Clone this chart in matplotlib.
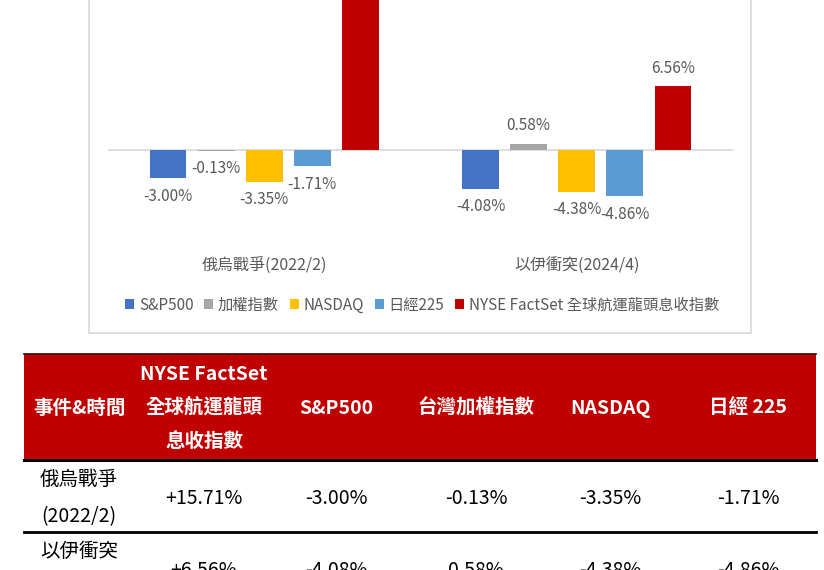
import matplotlib
matplotlib.use("Agg")
import matplotlib.pyplot as plt
from matplotlib.patches import Patch, Rectangle
from matplotlib.transforms import blended_transform_factory
import numpy as np

plt.rcParams['font.family'] = ['Noto Sans CJK TC', 'DejaVu Sans']

# ---------------- data ----------------
categories = ['俄烏戰爭(2022/2)', '以伊衝突(2024/4)']
series_names = ['S&P500', '加權指數', 'NASDAQ', '日經225', 'NYSE FactSet 全球航運龍頭息收指數']
sp500 = [-3.00, -4.08]
taiex = [-0.13, 0.58]
nasdaq = [-3.35, -4.38]
nikkei = [-1.71, -4.86]
nyse_shipping = [15.71, 6.56]
series_colors = ['#4472C4', '#A5A5A5', '#FFC000', '#5B9BD5', '#C00000']

table_header = ['事件&時間', 'NYSE FactSet\n全球航運龍頭\n息收指數', 'S&P500', '台灣加權指數', 'NASDAQ', '日經 225']
table_events = ['俄烏戰爭\n(2022/2)', '以伊衝突\n(2024/4)']

# ---------------- figure ----------------
W, H = 824, 570
fig = plt.figure(figsize=(W / 100, H / 100), dpi=100)

# overlay axes in pixel coordinates for frame and table
ov = fig.add_axes([0, 0, 1, 1], zorder=0)
ov.set_xlim(0, W)
ov.set_ylim(H, 0)
ov.axis('off')

# chart frame (top is cut off)
ov.add_patch(Rectangle((89, -20), 662, 353, fill=False, edgecolor='#D9D9D9', lw=1.2))

# ---------------- bar chart ----------------
px_per_pct = 9.65
zero_y = 149.5
ax_bottom_px = 240
ax = fig.add_axes([108 / W, 1 - ax_bottom_px / H, 625 / W, ax_bottom_px / H], zorder=1)
ax.patch.set_alpha(0)
ax.set_ylim(-(ax_bottom_px - zero_y) / px_per_pct, zero_y / px_per_pct)
ax.set_xlim(-0.5, len(categories) - 0.5)
for s in ax.spines.values():
    s.set_visible(False)
ax.set_xticks([])
ax.set_yticks([])
ax.axhline(0, color='#D9D9D9', lw=1.2, zorder=1)

all_series = [sp500, taiex, nasdaq, nikkei, nyse_shipping]
x = np.arange(len(categories))
step = 0.154
width = 0.118
label_color = '#595959'
for k, (vals, col) in enumerate(zip(all_series, series_colors)):
    pos = x + (k - 2) * step
    ax.bar(pos, vals, width=width, color=col, zorder=2)
    for p, v in zip(pos, vals):
        off = 13 if v >= 0 else -13
        ax.annotate(f'{v:.2f}%', (p, v), xytext=(0, off), textcoords='offset points',
                    ha='center', va='center', fontsize=11, color=label_color)

trans = blended_transform_factory(ax.transData, fig.transFigure)
for i, c in enumerate(categories):
    ax.text(i, 1 - 266 / H, c, transform=trans, ha='center', va='center',
            fontsize=11.5, color=label_color)

handles = [Patch(facecolor=c, edgecolor='none') for c in series_colors]
leg = fig.legend(handles, series_names, loc='center', bbox_to_anchor=(422 / W, 1 - 305 / H),
                 ncol=5, frameon=False, fontsize=11, handlelength=0.6, handleheight=0.6,
                 handletextpad=0.3, columnspacing=0.7, borderaxespad=0)
for t in leg.get_texts():
    t.set_color(label_color)

# ---------------- table ----------------
tbl_left, tbl_right = 24, 816
hdr_top, hdr_bot = 354, 459
row_line = 532
col_x = [79, 204, 336, 476, 610, 748]
ov.add_patch(Rectangle((tbl_left, hdr_top), tbl_right - tbl_left, hdr_bot - hdr_top,
                       facecolor='#C00000', edgecolor='none', zorder=2))
ov.plot([tbl_left, tbl_right], [hdr_top, hdr_top], color='#3a0000', lw=1.2, zorder=3)
ov.plot([tbl_left, tbl_right], [hdr_bot + 1, hdr_bot + 1], color='black', lw=2.2, zorder=3)
ov.plot([tbl_left, tbl_right], [row_line, row_line], color='black', lw=2.0, zorder=3)

hdr_center = 408
hdr_spacing = 33
for cx, txt in zip(col_x, table_header):
    lines = txt.split('\n')
    n = len(lines)
    for j, ln in enumerate(lines):
        yy = hdr_center + (j - (n - 1) / 2) * hdr_spacing
        ov.text(cx, yy, ln, ha='center', va='center', fontsize=14, fontweight='bold',
                color='white', zorder=4)

row_centers = [498, 570]
row_spacing = 37
table_values = list(zip(nyse_shipping, sp500, taiex, nasdaq, nikkei))
for r, (ev, vals) in enumerate(zip(table_events, table_values)):
    rc = row_centers[r]
    lines = ev.split('\n')
    n = len(lines)
    for j, ln in enumerate(lines):
        yy = rc + (j - (n - 1) / 2) * row_spacing
        ov.text(col_x[0], yy, ln, ha='center', va='center', fontsize=14, color='black', zorder=4)
    for ci, v in enumerate(vals):
        s = f'+{v:.2f}%' if ci == 0 else f'{v:.2f}%'
        ov.text(col_x[ci + 1], rc, s, ha='center', va='center', fontsize=14, color='black', zorder=4)

fig.savefig('out.png', dpi=100)
